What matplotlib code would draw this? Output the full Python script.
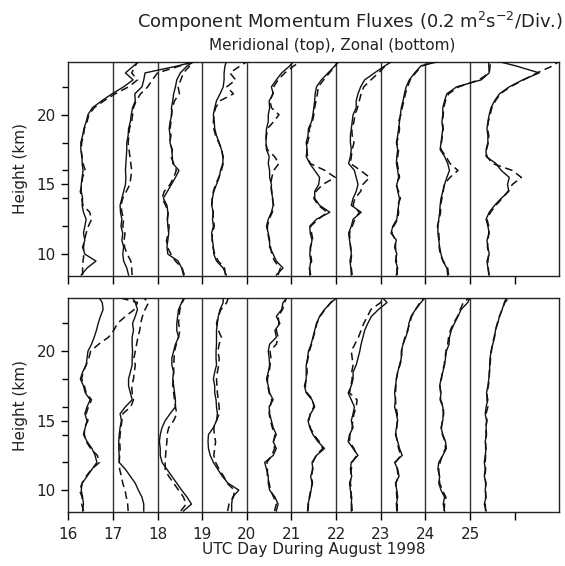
import numpy as np
import matplotlib
matplotlib.use("Agg")
import matplotlib.pyplot as plt

# heights of the profile levels (km)
heights = list(np.arange(8.5, 23.6, 0.5)) + [23.8]
days = [16, 17, 18, 19, 20, 21, 22, 23, 24, 25]

# plotted position of each profile (day + flux/0.2), meridional, solid
merid_solid = [
    [16.29, 16.42, 16.62, 16.37, 16.32, 16.37, 16.34, 16.37,
     16.40, 16.34, 16.31, 16.32, 16.29, 16.29, 16.31, 16.33,
     16.31, 16.31, 16.28, 16.28, 16.32, 16.35, 16.40, 16.44,
     16.54, 16.75, 16.98, 17.24, 17.45, 17.28, 17.46, 17.58],
    [17.35, 17.31, 17.24, 17.22, 17.24, 17.20, 17.22, 17.18,
     17.20, 17.17, 17.16, 17.20, 17.24, 17.28, 17.29, 17.28,
     17.29, 17.30, 17.31, 17.31, 17.34, 17.35, 17.39, 17.41,
     17.44, 17.50, 17.49, 17.65, 17.69, 17.72, 18.45, 18.81],
    [18.58, 18.54, 18.46, 18.23, 18.21, 18.23, 18.25, 18.23,
     18.22, 18.23, 18.21, 18.13, 18.22, 18.31, 18.40, 18.48,
     18.34, 18.33, 18.32, 18.28, 18.28, 18.26, 18.28, 18.32,
     18.31, 18.34, 18.36, 18.40, 18.43, 18.51, 18.66, 18.81],
    [19.54, 19.47, 19.32, 19.26, 19.25, 19.23, 19.21, 19.25,
     19.23, 19.25, 19.21, 19.23, 19.26, 19.32, 19.38, 19.41,
     19.46, 19.47, 19.43, 19.38, 19.32, 19.28, 19.27, 19.25,
     19.28, 19.32, 19.40, 19.47, 19.49, 19.49, 19.51, 19.54],
    [20.66, 20.81, 20.66, 20.59, 20.51, 20.51, 20.48, 20.44,
     20.48, 20.55, 20.59, 20.58, 20.55, 20.55, 20.51, 20.51,
     20.48, 20.50, 20.44, 20.43, 20.43, 20.44, 20.48, 20.48,
     20.51, 20.50, 20.59, 20.55, 20.66, 20.78, 20.96, 21.04],
    [21.41, 21.41, 21.43, 21.41, 21.43, 21.46, 21.42, 21.41,
     21.56, 21.86, 21.63, 21.52, 21.52, 21.61, 21.63, 21.52,
     21.41, 21.33, 21.35, 21.33, 21.37, 21.38, 21.45, 21.48,
     21.50, 21.52, 21.53, 21.56, 21.67, 21.82, 21.97, 22.04],
    [22.34, 22.33, 22.31, 22.34, 22.33, 22.30, 22.28, 22.34,
     22.38, 22.56, 22.34, 22.38, 22.45, 22.49, 22.45, 22.41,
     22.28, 22.32, 22.34, 22.32, 22.32, 22.34, 22.36, 22.38,
     22.45, 22.45, 22.49, 22.55, 22.64, 22.86, 23.09, 23.24],
    [23.35, 23.38, 23.33, 23.36, 23.31, 23.35, 23.23, 23.27,
     23.36, 23.38, 23.40, 23.42, 23.38, 23.36, 23.40, 23.38,
     23.35, 23.36, 23.38, 23.35, 23.38, 23.40, 23.42, 23.44,
     23.46, 23.50, 23.53, 23.57, 23.64, 23.76, 23.90, 24.28],
    [24.50, 24.48, 24.39, 24.35, 24.32, 24.30, 24.28, 24.28,
     24.30, 24.32, 24.33, 24.35, 24.39, 24.43, 24.48, 24.54,
     24.50, 24.43, 24.33, 24.35, 24.37, 24.39, 24.37, 24.39,
     24.39, 24.43, 24.48, 24.70, 25.25, 25.43, 25.42, 25.42],
    [25.43, 25.40, 25.38, 25.43, 25.40, 25.38, 25.43, 25.40,
     25.36, 25.43, 25.55, 25.70, 25.87, 25.84, 25.88, 25.70,
     25.58, 25.36, 25.36, 25.40, 25.40, 25.38, 25.40, 25.43,
     25.47, 25.55, 25.66, 25.88, 26.18, 26.55, 26.03, 25.66],
]

merid_dashed = [
    [16.32, 16.32, 16.33, 16.35, 16.34, 16.36, 16.40, 16.45,
     16.52, 16.48, 16.33, 16.30, 16.27, 16.30, 16.32, 16.38,
     16.33, 16.30, 16.29, 16.30, 16.34, 16.36, 16.42, 16.46,
     16.58, 16.80, 17.05, 17.35, 17.55, 17.42, 17.50, 17.55],
    [17.43, 17.42, 17.40, 17.32, 17.26, 17.25, 17.27, 17.22,
     17.24, 17.20, 17.18, 17.22, 17.30, 17.38, 17.40, 17.42,
     17.40, 17.38, 17.36, 17.34, 17.36, 17.37, 17.42, 17.44,
     17.46, 17.52, 17.62, 17.78, 17.88, 18.00, 18.50, 18.78],
    [18.60, 18.55, 18.40, 18.30, 18.22, 18.20, 18.24, 18.26,
     18.22, 18.24, 18.18, 18.10, 18.15, 18.28, 18.36, 18.42,
     18.36, 18.30, 18.33, 18.27, 18.30, 18.28, 18.30, 18.31,
     18.33, 18.38, 18.49, 18.46, 18.52, 18.58, 18.72, 18.80],
    [19.52, 19.50, 19.36, 19.28, 19.24, 19.22, 19.23, 19.27,
     19.25, 19.24, 19.22, 19.22, 19.25, 19.30, 19.37, 19.43,
     19.47, 19.46, 19.44, 19.37, 19.30, 19.26, 19.25, 19.26,
     19.30, 19.40, 19.70, 19.55, 19.75, 19.62, 19.85, 20.00],
    [20.70, 20.75, 20.62, 20.56, 20.53, 20.50, 20.47, 20.46,
     20.50, 20.57, 20.60, 20.57, 20.56, 20.53, 20.56, 20.60,
     20.72, 20.62, 20.46, 20.42, 20.44, 20.46, 20.60, 20.72,
     20.55, 20.52, 20.58, 20.60, 20.70, 20.85, 21.05, 21.20],
    [21.43, 21.40, 21.45, 21.43, 21.42, 21.48, 21.45, 21.43,
     21.60, 21.80, 21.60, 21.50, 21.55, 21.70, 21.98, 21.75,
     21.42, 21.36, 21.34, 21.36, 21.40, 21.40, 21.47, 21.50,
     21.52, 21.55, 21.58, 21.60, 21.72, 21.85, 21.98, 22.05],
    [22.36, 22.34, 22.33, 22.35, 22.32, 22.31, 22.30, 22.36,
     22.42, 22.52, 22.38, 22.42, 22.55, 22.60, 22.75, 22.55,
     22.32, 22.34, 22.36, 22.40, 22.36, 22.35, 22.40, 22.42,
     22.48, 22.52, 22.56, 22.62, 22.78, 22.95, 23.10, 23.20],
    [23.37, 23.36, 23.35, 23.34, 23.33, 23.33, 23.25, 23.29,
     23.38, 23.40, 23.38, 23.44, 23.40, 23.34, 23.42, 23.40,
     23.37, 23.38, 23.40, 23.36, 23.40, 23.42, 23.40, 23.45,
     23.48, 23.52, 23.55, 23.60, 23.66, 23.78, 23.92, 24.20],
    [24.52, 24.50, 24.40, 24.33, 24.31, 24.31, 24.30, 24.27,
     24.31, 24.34, 24.34, 24.37, 24.40, 24.42, 24.55, 24.73,
     24.55, 24.46, 24.35, 24.36, 24.38, 24.40, 24.38, 24.40,
     24.41, 24.45, 24.52, 24.75, 25.20, 25.43, 25.45, 25.45],
    [25.42, 25.41, 25.40, 25.42, 25.39, 25.40, 25.42, 25.42,
     25.38, 25.46, 25.58, 25.72, 25.85, 25.95, 26.15, 25.95,
     25.50, 25.38, 25.37, 25.41, 25.42, 25.39, 25.41, 25.45,
     25.49, 25.57, 25.68, 25.90, 26.20, 26.50, 26.85, 26.98],
]

zonal_solid = [
    [16.32, 16.34, 16.32, 16.29, 16.31, 16.42, 16.53, 16.64,
     16.60, 16.53, 16.42, 16.34, 16.38, 16.42, 16.37, 16.42,
     16.49, 16.38, 16.34, 16.27, 16.32, 16.40, 16.42, 16.44,
     16.52, 16.58, 16.63, 16.67, 16.72, 16.78, 16.76, 16.70],
    [17.69, 17.69, 17.65, 17.57, 17.50, 17.39, 17.28, 17.14,
     17.14, 17.13, 17.13, 17.14, 17.16, 17.19, 17.16, 17.28,
     17.43, 17.39, 17.35, 17.35, 17.39, 17.43, 17.43, 17.44,
     17.43, 17.43, 17.46, 17.44, 17.50, 17.55, 17.50, 17.45],
    [18.58, 18.76, 18.66, 18.54, 18.43, 18.32, 18.21, 18.10,
     18.06, 18.06, 18.04, 18.06, 18.10, 18.17, 18.28, 18.40,
     18.40, 18.38, 18.36, 18.34, 18.36, 18.32, 18.32, 18.36,
     18.40, 18.47, 18.43, 18.43, 18.45, 18.47, 18.54, 18.58],
    [19.66, 19.66, 19.68, 19.82, 19.58, 19.45, 19.35, 19.25,
     19.18, 19.14, 19.13, 19.14, 19.25, 19.32, 19.34, 19.32,
     19.31, 19.28, 19.28, 19.25, 19.28, 19.32, 19.31, 19.31,
     19.32, 19.32, 19.32, 19.34, 19.36, 19.40, 19.47, 19.47],
    [20.66, 20.70, 20.63, 20.51, 20.48, 20.48, 20.44, 20.40,
     20.59, 20.66, 20.59, 20.66, 20.59, 20.55, 20.51, 20.50,
     20.59, 20.51, 20.48, 20.44, 20.48, 20.51, 20.50, 20.48,
     20.51, 20.66, 20.63, 20.74, 20.66, 20.78, 20.81, 20.89],
    [21.36, 21.37, 21.41, 21.44, 21.46, 21.43, 21.48, 21.46,
     21.56, 21.74, 21.59, 21.48, 21.41, 21.37, 21.43, 21.52,
     21.46, 21.33, 21.29, 21.33, 21.33, 21.33, 21.36, 21.38,
     21.44, 21.48, 21.52, 21.56, 21.63, 21.74, 21.89, 22.00],
    [22.34, 22.34, 22.35, 22.32, 22.30, 22.35, 22.32, 22.34,
     22.49, 22.38, 22.27, 22.30, 22.38, 22.34, 22.38, 22.41,
     22.34, 22.27, 22.34, 22.38, 22.38, 22.45, 22.49, 22.53,
     22.56, 22.60, 22.64, 22.71, 22.79, 22.95, 23.14, 23.05],
    [23.36, 23.35, 23.38, 23.36, 23.33, 23.41, 23.38, 23.31,
     23.48, 23.42, 23.38, 23.33, 23.35, 23.38, 23.35, 23.31,
     23.33, 23.31, 23.33, 23.35, 23.38, 23.42, 23.46, 23.46,
     23.50, 23.56, 23.61, 23.63, 23.68, 23.78, 23.90, 23.98],
    [24.43, 24.40, 24.43, 24.35, 24.30, 24.32, 24.28, 24.30,
     24.39, 24.47, 24.45, 24.39, 24.35, 24.39, 24.40, 24.39,
     24.33, 24.35, 24.32, 24.35, 24.39, 24.43, 24.45, 24.47,
     24.53, 24.54, 24.58, 24.65, 24.73, 24.80, 24.95, 24.99],
    [25.36, 25.32, 25.36, 25.34, 25.36, 25.32, 25.34, 25.32,
     25.34, 25.36, 25.34, 25.37, 25.36, 25.37, 25.34, 25.36,
     25.40, 25.37, 25.40, 25.42, 25.44, 25.44, 25.45, 25.47,
     25.51, 25.55, 25.57, 25.62, 25.66, 25.72, 25.77, 25.81],
]

zonal_dashed = [
    [16.34, 16.30, 16.31, 16.25, 16.31, 16.40, 16.52, 16.70,
     16.65, 16.50, 16.40, 16.36, 16.36, 16.44, 16.40, 16.45,
     16.52, 16.40, 16.36, 16.30, 16.33, 16.40, 16.46, 16.50,
     16.68, 16.90, 17.02, 17.10, 17.28, 17.48, 17.55, 17.20],
    [17.34, 17.33, 17.30, 17.27, 17.22, 17.19, 17.15, 17.14,
     17.15, 17.16, 17.15, 17.16, 17.18, 17.20, 17.22, 17.40,
     17.46, 17.43, 17.42, 17.46, 17.48, 17.50, 17.47, 17.50,
     17.53, 17.56, 17.60, 17.62, 17.66, 17.72, 17.80, 17.70],
    [18.52, 18.64, 18.58, 18.47, 18.36, 18.25, 18.17, 18.17,
     18.18, 18.19, 18.21, 18.21, 18.25, 18.36, 18.43, 18.40,
     18.38, 18.36, 18.34, 18.35, 18.36, 18.36, 18.37, 18.38,
     18.42, 18.47, 18.50, 18.47, 18.48, 18.50, 18.55, 18.60],
    [19.57, 19.60, 19.70, 19.72, 19.56, 19.48, 19.38, 19.30,
     19.26, 19.28, 19.30, 19.27, 19.26, 19.32, 19.38, 19.38,
     19.36, 19.34, 19.33, 19.32, 19.34, 19.37, 19.38, 19.35,
     19.38, 19.43, 19.36, 19.32, 19.36, 19.42, 19.55, 19.58],
    [20.62, 20.66, 20.60, 20.53, 20.50, 20.46, 20.46, 20.45,
     20.56, 20.62, 20.60, 20.63, 20.57, 20.53, 20.50, 20.52,
     20.56, 20.50, 20.47, 20.46, 20.50, 20.52, 20.54, 20.52,
     20.66, 20.70, 20.66, 20.72, 20.70, 20.80, 20.85, 20.88],
    [21.37, 21.38, 21.40, 21.43, 21.47, 21.45, 21.47, 21.48,
     21.55, 21.70, 21.62, 21.50, 21.42, 21.39, 21.42, 21.50,
     21.48, 21.35, 21.31, 21.33, 21.35, 21.34, 21.37, 21.40,
     21.45, 21.49, 21.53, 21.57, 21.64, 21.75, 21.88, 21.98],
    [22.36, 22.35, 22.33, 22.34, 22.32, 22.33, 22.34, 22.36,
     22.46, 22.40, 22.30, 22.31, 22.36, 22.37, 22.40, 22.45,
     22.47, 22.30, 22.33, 22.36, 22.35, 22.38, 22.36, 22.34,
     22.42, 22.50, 22.56, 22.62, 22.70, 22.78, 23.00, 23.05],
    [23.37, 23.37, 23.36, 23.35, 23.34, 23.39, 23.37, 23.33,
     23.45, 23.40, 23.37, 23.34, 23.36, 23.37, 23.37, 23.34,
     23.33, 23.33, 23.34, 23.35, 23.38, 23.43, 23.47, 23.47,
     23.50, 23.54, 23.60, 23.65, 23.69, 23.78, 23.88, 23.96],
    [24.42, 24.43, 24.46, 24.38, 24.32, 24.31, 24.30, 24.33,
     24.38, 24.45, 24.44, 24.38, 24.36, 24.38, 24.41, 24.40,
     24.34, 24.34, 24.33, 24.36, 24.38, 24.42, 24.44, 24.46,
     24.50, 24.52, 24.56, 24.63, 24.72, 24.78, 24.85, 24.97],
    [25.35, 25.34, 25.35, 25.35, 25.35, 25.33, 25.35, 25.34,
     25.35, 25.35, 25.35, 25.36, 25.35, 25.38, 25.36, 25.40,
     25.38, 25.38, 25.41, 25.43, 25.43, 25.45, 25.46, 25.48,
     25.50, 25.54, 25.57, 25.61, 25.66, 25.72, 25.78, 25.86],
]

xtick_labels = ['16', '17', '18', '19', '20', '21', '22', '23', '24', '25', '']

plt.rcParams['font.family'] = ['DejaVu Sans']
plt.rcParams['mathtext.fontset'] = 'dejavusans'


def draw_panel(ax, solid, dashed, show_xlabels):
    # separators between days
    for d in days[1:]:
        ax.axvline(d, color='#333333', lw=1.0, zorder=1)
    for s, dsh in zip(solid, dashed):
        ax.plot(s, heights, color='#111111', lw=1.0, zorder=3)
        ax.plot(dsh, heights, color='#111111', lw=1.1, ls=(0, (5, 3)), zorder=3)
    ax.set_xlim(16, 27)
    ax.set_ylim(8.45, 23.8)
    ax.set_xticks(list(range(16, 27)))
    if show_xlabels:
        ax.set_xticklabels(xtick_labels, fontsize=11, color='#222222')
    else:
        ax.set_xticklabels([])
    ax.set_yticks([10, 15, 20])
    ax.set_yticks([12, 14, 16, 18, 22], minor=True)
    ax.set_yticklabels(['10', '15', '20'], fontsize=11, color='#222222')
    ax.tick_params(axis='x', direction='out', length=6, width=1, pad=5)
    ax.tick_params(axis='y', which='major', direction='out', length=5, width=1, pad=4)
    ax.tick_params(axis='y', which='minor', direction='out', length=4, width=1)
    ax.set_ylabel('Height (km)', fontsize=11, labelpad=6, color='#222222')
    for sp in ax.spines.values():
        sp.set_linewidth(1.0)
        sp.set_color('#222222')


fig = plt.figure(figsize=(5.65, 5.66), dpi=100)
ax1 = fig.add_axes([0.1209, 0.5129, 0.869, 0.378])
ax2 = fig.add_axes([0.1209, 0.0959, 0.869, 0.377])

draw_panel(ax1, merid_solid, merid_dashed, False)
draw_panel(ax2, zonal_solid, zonal_dashed, True)
ax2.set_xlabel('UTC Day During August 1998', fontsize=11, labelpad=0, color='#222222')

fig.text(0.619, 0.961, r'Component Momentum Fluxes (0.2 m$^2$s$^{-2}$/Div.)',
         ha='center', va='center', fontsize=13, color='#222222')
fig.text(0.588, 0.920, 'Meridional (top), Zonal (bottom)',
         ha='center', va='center', fontsize=11, color='#222222')

fig.savefig('out.png', dpi=100)
